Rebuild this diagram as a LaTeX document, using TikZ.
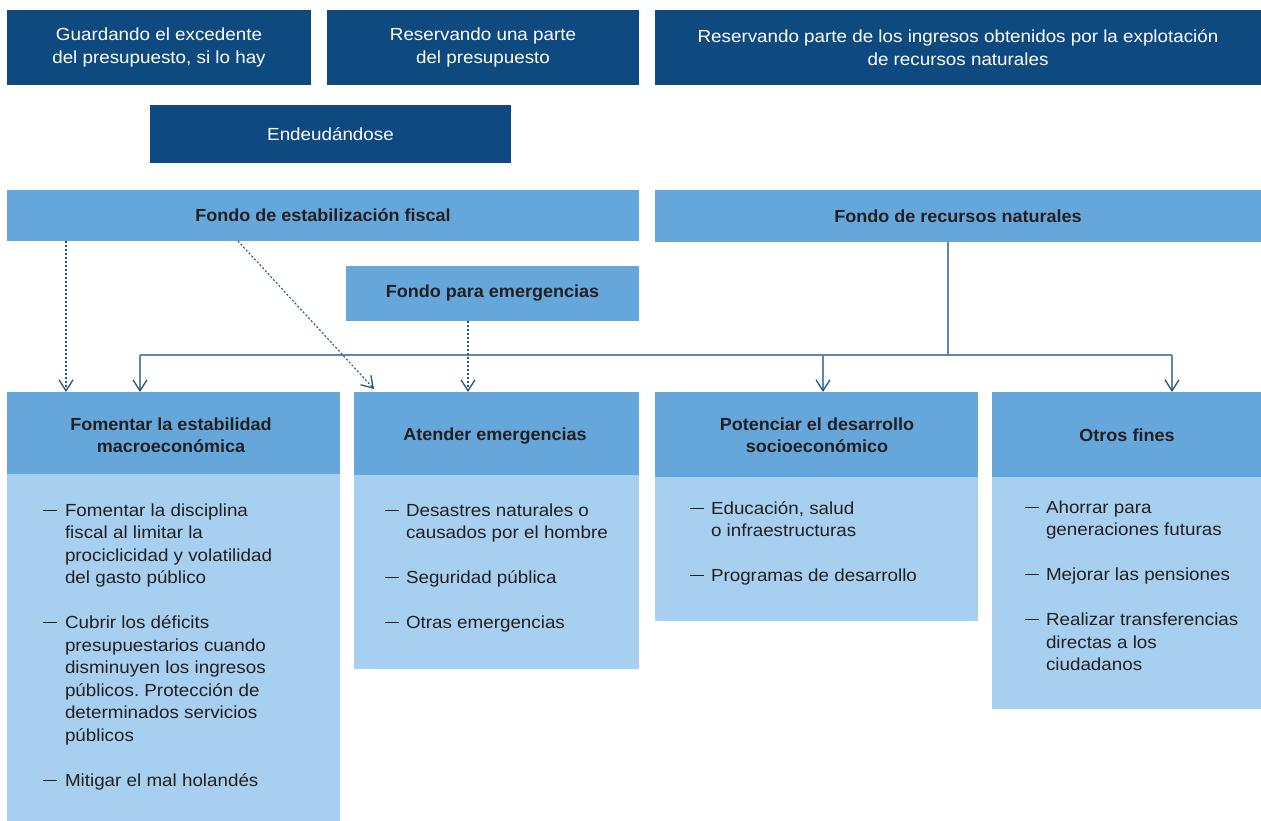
\documentclass[tikz,border=0pt]{standalone}
\usepackage{fontspec}
\setmainfont[FakeStretch=1.075, BoldFeatures={FakeStretch=1.03}]{Liberation Sans}
\usetikzlibrary{arrows.meta}
\frenchspacing
\definecolor{dark}{HTML}{0E4A80}
\definecolor{mid}{HTML}{65A7DB}
\definecolor{light}{HTML}{A7D0F0}
\definecolor{txt}{HTML}{231F20}
\definecolor{conn}{HTML}{5F86B0}
\definecolor{arr}{HTML}{1F5590}
\newcommand{\dsh}{\rule[0.3em]{14pt}{1.1pt}}
\tikzset{
  box/.style={inner sep=0pt, outer sep=0pt, anchor=north west, align=center,
    font=\fontsize{17.5}{22.5}\selectfont, text=txt},
  darkbox/.style={box, fill=dark, text=white},
  midbox/.style={box, fill=mid, font=\fontsize{17.5}{22.5}\selectfont\bfseries},
  lightbox/.style={box, fill=light},
  lst/.style={inner sep=0pt, outer sep=0pt, anchor=base west, align=left,
    font=\fontsize{17.5}{22.5}\selectfont, text=txt},
  ttl/.style={inner sep=0pt, outer sep=0pt, align=center,
    font=\fontsize{17.5}{22.5}\selectfont\bfseries, text=txt},
  tip/.style={-{Straight Barb[length=11pt,width=14pt,line width=1.3pt,color=arr]}},
  solidconn/.style={draw=conn, line width=1.3pt},
  dotconn/.style={draw=arr, line width=1.1pt, dash pattern=on 2pt off 2pt},
}
\begin{document}
\begin{tikzpicture}[x=1pt,y=-1pt]
\useasboundingbox (0,0) rectangle (1261,821);
% top dark boxes
\node[darkbox, minimum width=304pt, minimum height=75pt] (g) at (7,10) {Guardando el excedente\\del presupuesto, si lo hay};
\node[darkbox, minimum width=312pt, minimum height=75pt] (r) at (327,10) {Reservando una parte\\del presupuesto};
\node[darkbox, minimum width=606pt, minimum height=75pt] (rn) at (655,10) {Reservando parte de los ingresos obtenidos por la explotación\\de recursos naturales};
\node[darkbox, minimum width=361pt, minimum height=58pt] (e) at (150,105) {Endeudándose};
% funds
\node[midbox, minimum width=632pt, minimum height=51pt] (fef) at (7,190) {Fondo de estabilización fiscal};
\node[midbox, minimum width=606pt, minimum height=52pt] (frn) at (655,190) {Fondo de recursos naturales};
\node[midbox, minimum width=293pt, minimum height=55pt] (fe) at (346,266) {Fondo para emergencias};
% column bodies
\node[lightbox, minimum width=333pt, minimum height=347pt] (b1) at (7,474) {};
\node[lightbox, minimum width=285pt, minimum height=194pt] (b2) at (354,475) {};
\node[lightbox, minimum width=323pt, minimum height=144pt] (b3) at (655,477) {};
\node[lightbox, minimum width=269pt, minimum height=232pt] (b4) at (992,477) {};
% column headers
\node[box, fill=mid, minimum width=333pt, minimum height=82pt] (c1) at (7,392) {};
\node[box, fill=mid, minimum width=285pt, minimum height=83pt] (c2) at (354,392) {};
\node[box, fill=mid, minimum width=323pt, minimum height=85pt] (c3) at (655,392) {};
\node[box, fill=mid, minimum width=269pt, minimum height=85pt] (c4) at (992,392) {};
\node[ttl] (t1) at (171,435) {Fomentar la estabilidad\\macroeconómica};
\node[ttl] (t2) at (495,436) {Atender emergencias};
\node[ttl] (t3) at (817,435) {Potenciar el desarrollo\\socioeconómico};
\node[ttl] (t4) at (1127,435) {Otros fines};
% lists
\node[lst] (l1) at (43,516) {\begin{tabular}[t]{@{}p{22pt}@{}l@{}}
\dsh & Fomentar la disciplina\\
 & fiscal al limitar la\\
 & prociclicidad y volatilidad\\
 & del gasto público\\[22.5pt]
\dsh & Cubrir los déficits\\
 & presupuestarios cuando\\
 & disminuyen los ingresos\\
 & públicos. Protección de\\
 & determinados servicios\\
 & públicos\\[22.5pt]
\dsh & Mitigar el mal holandés
\end{tabular}};
\node[lst] (l2) at (385,516) {\begin{tabular}[t]{@{}p{21pt}@{}l@{}}
\dsh & Desastres naturales o\\
 & causados por el hombre\\[22.5pt]
\dsh & Seguridad pública\\[22.5pt]
\dsh & Otras emergencias
\end{tabular}};
\node[lst] (l3) at (690,514) {\begin{tabular}[t]{@{}p{21pt}@{}l@{}}
\dsh & Educación, salud\\
 & o infraestructuras\\[22.5pt]
\dsh & Programas de desarrollo
\end{tabular}};
\node[lst] (l4) at (1025,513) {\begin{tabular}[t]{@{}p{21pt}@{}l@{}}
\dsh & Ahorrar para\\
 & generaciones futuras\\[22.5pt]
\dsh & Mejorar las pensiones\\[22.5pt]
\dsh & Realizar transferencias\\
 & directas a los\\
 & ciudadanos
\end{tabular}};
% solid connectors
\coordinate (j) at (948,355);
\coordinate (hl) at (140,355);
\coordinate (hm) at (823,355);
\coordinate (hr) at (1172,355);
\draw[solidconn] (j |- frn.south) -- (j);
\draw[solidconn] (hl) -- (hr);
\draw[solidconn, tip] (hl) -- (hl |- c1.north);
\draw[solidconn, tip] (hm) -- (hm |- c3.north);
\draw[solidconn, tip] (hr) -- (hr |- c4.north);
% dotted connectors
\coordinate (d1) at (66,300);
\coordinate (d2s) at (238,241);
\coordinate (d2e) at (374,389);
\coordinate (d3) at (468,300);
\draw[dotconn, tip] (d1 |- fef.south) -- (d1 |- c1.north);
\draw[dotconn, tip] (d2s) -- (d2e);
\draw[dotconn, tip] (d3 |- fe.south) -- (d3 |- c2.north);
\end{tikzpicture}
\end{document}
